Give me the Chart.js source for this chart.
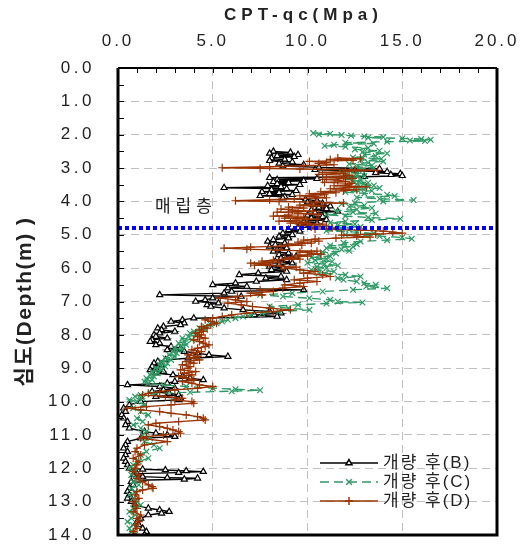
<!DOCTYPE html>
<html>
<head>
<meta charset="utf-8">
<script src="https://cdn.jsdelivr.net/npm/chart.js@4.4.1/dist/chart.umd.min.js"></script>
<style>
    html, body { margin: 0; padding: 0; background: #fff; }
    #wrap { width: 529px; height: 546px; }
</style>
</head>
<body>
<div id="wrap"><canvas id="cpt-chart" width="529" height="546"></canvas></div>
<script>
"use strict";

// ---- data (depth m, qc MPa) ----
const depthB = [2.50,2.53,2.56,2.60,2.63,2.66,2.70,2.74,2.78,2.82,2.86,2.90,2.94,2.98,3.02,3.05,3.08,3.11,3.14,3.17,3.20,3.23,3.26,3.29,3.32,3.35,3.38,3.41,3.44,3.47,3.50,3.53,3.56,3.59,3.62,3.65,3.68,3.71,3.74,3.77,3.80,3.83,3.86,3.90,3.94,3.98,4.02,4.06,4.10,4.14,4.18,4.22,4.26,4.30,4.34,4.38,4.42,4.46,4.50,4.55,4.60,4.65,4.70,4.75,4.80,4.85,4.90,4.95,5.00,5.05,5.10,5.15,5.20,5.25,5.30,5.35,5.40,5.45,5.50,5.55,5.60,5.65,5.70,5.75,5.80,5.85,5.90,5.95,6.00,6.05,6.10,6.15,6.20,6.25,6.30,6.35,6.40,6.45,6.50,6.55,6.60,6.65,6.70,6.75,6.80,6.85,6.90,6.95,7.00,7.05,7.10,7.15,7.20,7.25,7.30,7.35,7.40,7.45,7.50,7.55,7.60,7.65,7.70,7.75,7.80,7.85,7.90,7.95,8.00,8.05,8.10,8.15,8.20,8.25,8.30,8.35,8.40,8.45,8.50,8.55,8.60,8.65,8.70,8.75,8.80,8.85,8.90,8.95,9.00,9.05,9.10,9.15,9.20,9.25,9.30,9.35,9.40,9.45,9.50,9.55,9.60,9.65,9.70,9.75,9.80,9.85,9.90,9.95,10.00,10.10,10.20,10.30,10.40,10.50,10.60,10.70,10.80,10.90,10.95,11.00,11.05,11.10,11.20,11.30,11.40,11.50,11.60,11.70,11.80,11.90,12.00,12.03,12.05,12.08,12.10,12.13,12.16,12.20,12.25,12.28,12.30,12.33,12.36,12.40,12.50,12.60,12.70,12.80,12.90,13.00,13.10,13.20,13.25,13.30,13.35,13.40,13.50,13.60,13.70,13.80,13.90,14.00];
const qcB = [8.2,9.1,8.0,9.5,8.4,9.3,8.1,8.8,8.0,9.2,8.5,9.8,8.7,10.6,13.8,10.4,12.5,14.2,13.6,14.9,14.4,15.0,13.0,8.0,10.5,8.4,9.8,8.2,9.0,8.4,9.6,7.9,8.6,5.6,8.9,8.1,9.4,7.6,8.5,8.0,9.2,7.5,8.8,8.7,9.9,10.5,10.0,10.8,10.3,11.2,10.6,11.0,10.2,11.6,10.4,10.9,10.0,10.8,10.2,11.0,9.8,10.5,9.6,10.3,9.5,9.0,9.6,8.7,9.2,8.5,9.0,8.2,7.9,8.8,8.3,8.0,8.9,8.4,8.2,9.0,8.5,9.4,8.6,8.9,8.3,9.2,8.5,8.0,8.7,8.1,8.9,7.4,6.4,8.6,7.8,8.9,7.3,6.2,5.0,6.8,5.8,9.8,6.0,5.6,2.2,6.5,5.0,4.6,4.1,5.3,4.7,4.9,5.6,6.6,8.0,8.6,7.2,8.4,4.0,3.4,2.8,3.5,3.3,2.4,2.1,2.3,3.0,2.2,1.9,2.0,2.6,1.8,1.7,2.2,2.0,2.8,3.3,2.6,3.5,4.2,4.8,5.8,3.7,2.5,2.1,1.9,2.3,1.8,2.0,1.7,2.4,2.0,2.9,3.4,3.8,4.5,3.0,2.6,0.5,2.2,3.0,2.4,1.8,2.7,3.2,2.0,3.3,3.2,1.2,0.6,0.3,0.4,0.2,0.3,0.5,0.4,0.6,1.4,2.0,2.6,3.0,1.2,0.5,0.4,0.3,0.5,0.4,0.3,0.4,0.5,0.6,1.3,2.5,3.6,4.5,3.2,1.0,0.8,1.3,2.6,4.2,3.5,1.0,0.7,0.8,0.6,0.5,0.6,0.5,0.7,0.9,1.6,2.2,2.7,2.3,1.6,1.2,1.0,1.1,1.3,1.5,1.4];

const depthC = [1.95,1.97,1.99,2.01,2.03,2.05,2.07,2.09,2.11,2.13,2.15,2.17,2.19,2.21,2.24,2.27,2.30,2.33,2.36,2.40,2.44,2.48,2.52,2.56,2.60,2.64,2.68,2.72,2.76,2.80,2.84,2.88,2.92,2.96,3.00,3.04,3.08,3.12,3.16,3.20,3.24,3.28,3.32,3.36,3.40,3.44,3.48,3.52,3.56,3.60,3.64,3.68,3.72,3.76,3.80,3.84,3.88,3.92,3.96,4.00,4.04,4.08,4.12,4.16,4.20,4.24,4.28,4.32,4.36,4.40,4.44,4.48,4.52,4.56,4.60,4.64,4.68,4.72,4.76,4.80,4.84,4.88,4.92,4.96,5.00,5.04,5.08,5.12,5.16,5.20,5.24,5.28,5.32,5.36,5.40,5.44,5.48,5.52,5.56,5.60,5.64,5.68,5.72,5.76,5.80,5.84,5.88,5.92,5.96,6.00,6.05,6.10,6.15,6.20,6.25,6.30,6.35,6.40,6.45,6.50,6.55,6.60,6.65,6.70,6.75,6.80,6.85,6.90,6.95,7.00,7.03,7.06,7.10,7.15,7.20,7.25,7.30,7.35,7.40,7.45,7.50,7.55,7.60,7.65,7.70,7.75,7.80,7.85,7.90,7.95,8.00,8.05,8.10,8.15,8.20,8.25,8.30,8.35,8.40,8.45,8.50,8.55,8.60,8.65,8.70,8.75,8.80,8.85,8.90,8.95,9.00,9.05,9.10,9.15,9.20,9.25,9.30,9.35,9.40,9.45,9.50,9.55,9.60,9.63,9.66,9.69,9.72,9.76,9.80,9.85,9.90,9.95,10.00,10.10,10.20,10.30,10.40,10.50,10.60,10.70,10.80,10.90,11.00,11.10,11.20,11.30,11.40,11.50,11.60,11.70,11.80,11.90,12.00,12.10,12.20,12.30,12.40,12.50,12.60,12.70,12.80,12.90,13.00,13.10,13.20,13.30,13.40,13.50,13.60,13.70,13.80,13.90,14.00];
const qcC = [10.3,11.2,10.6,11.8,12.3,13.0,14.0,13.2,15.0,16.0,16.5,15.4,16.2,14.2,12.0,13.5,11.4,10.9,12.0,13.2,12.5,13.8,12.9,14.2,13.0,13.6,12.4,13.9,12.8,14.0,13.2,12.2,13.4,12.6,13.5,12.3,12.9,11.8,12.6,12.0,13.0,12.2,11.6,12.8,12.4,13.2,12.6,13.5,12.8,13.8,12.5,13.4,12.0,13.0,14.2,14.6,12.6,13.8,15.6,14.0,12.5,11.8,13.0,12.2,13.4,12.6,11.5,12.4,13.6,11.0,12.0,13.2,14.9,13.4,12.0,11.2,12.5,11.6,12.8,11.4,12.2,11.0,12.6,13.5,12.0,13.8,15.0,15.5,14.2,12.8,11.9,12.6,11.2,12.4,11.0,11.8,12.2,10.8,11.5,10.6,11.2,10.2,11.0,10.4,11.3,10.0,10.9,11.6,10.5,11.0,10.2,11.4,10.6,12.0,12.8,11.6,11.9,12.6,13.0,13.6,13.1,14.2,12.4,10.8,9.2,7.5,8.7,10.1,11.2,11.6,12.9,11.0,9.5,8.0,9.0,10.1,8.5,7.6,7.0,6.6,6.2,5.8,5.5,5.2,4.9,4.6,4.3,4.6,4.0,3.8,4.1,3.7,3.4,3.9,3.5,3.2,3.6,3.3,3.0,3.4,2.9,3.1,2.7,3.0,2.5,2.8,2.3,2.6,2.2,2.5,2.0,2.3,1.8,2.1,1.7,1.9,1.5,1.8,1.4,1.6,2.4,3.6,5.0,6.2,7.5,6.0,3.8,1.8,1.2,0.9,1.3,0.6,1.0,1.4,0.8,1.2,1.6,1.0,1.3,0.8,1.2,1.5,1.3,1.7,1.4,1.9,2.2,1.5,1.2,1.6,1.1,0.8,0.6,0.9,0.7,1.0,0.8,1.1,0.7,0.9,0.6,0.8,1.0,1.2,0.8,0.6,0.9,0.7,0.5,0.8,0.6,0.7,0.9];

const depthD = [2.70,2.72,2.74,2.77,2.80,2.83,2.86,2.90,2.93,2.96,2.99,3.01,3.03,3.05,3.07,3.10,3.13,3.16,3.19,3.22,3.25,3.28,3.31,3.34,3.37,3.40,3.43,3.46,3.50,3.53,3.56,3.59,3.62,3.65,3.68,3.71,3.74,3.77,3.80,3.83,3.86,3.89,3.92,3.95,3.98,4.00,4.02,4.05,4.08,4.11,4.14,4.17,4.20,4.23,4.26,4.29,4.32,4.35,4.38,4.41,4.44,4.47,4.50,4.53,4.56,4.59,4.62,4.65,4.68,4.71,4.74,4.77,4.80,4.83,4.86,4.89,4.92,4.95,4.98,5.01,5.04,5.07,5.10,5.13,5.16,5.19,5.22,5.25,5.28,5.31,5.34,5.37,5.40,5.43,5.46,5.49,5.52,5.55,5.58,5.61,5.64,5.67,5.70,5.73,5.76,5.79,5.82,5.85,5.88,5.91,5.94,5.97,6.00,6.05,6.10,6.15,6.20,6.25,6.30,6.35,6.40,6.45,6.50,6.55,6.60,6.65,6.70,6.75,6.80,6.85,6.90,6.95,7.00,7.05,7.10,7.15,7.20,7.25,7.30,7.35,7.40,7.45,7.50,7.55,7.60,7.65,7.70,7.75,7.80,7.85,7.90,7.95,8.00,8.05,8.10,8.15,8.20,8.25,8.30,8.35,8.40,8.45,8.50,8.55,8.60,8.65,8.70,8.75,8.80,8.85,8.90,8.95,9.00,9.05,9.10,9.15,9.20,9.25,9.30,9.35,9.40,9.45,9.50,9.55,9.60,9.65,9.70,9.75,9.80,9.85,9.90,9.95,10.00,10.05,10.10,10.15,10.20,10.25,10.30,10.35,10.40,10.45,10.50,10.55,10.60,10.65,10.70,10.75,10.80,10.85,10.90,10.95,11.00,11.05,11.10,11.20,11.30,11.40,11.50,11.60,11.70,11.80,11.90,12.00,12.10,12.20,12.30,12.40,12.50,12.55,12.60,12.65,12.70,12.80,12.90,13.00,13.10,13.20,13.30,13.40,13.50,13.60,13.70,13.80,13.90,14.00];
const qcD = [11.6,12.8,11.2,12.4,10.1,11.0,10.6,11.4,9.8,8.0,5.5,7.5,9.6,12.5,13.7,12.0,10.8,11.9,10.6,12.2,11.9,11.0,12.4,10.8,11.6,12.0,10.9,12.3,12.2,11.4,13.1,12.0,11.2,12.6,11.9,10.7,11.5,10.1,10.9,9.6,10.4,11.0,9.3,8.0,6.2,8.5,10.5,11.9,10.2,9.6,10.8,9.0,9.8,8.6,9.2,10.3,8.4,9.5,10.6,9.0,8.2,9.8,8.8,10.5,9.4,8.5,10.0,9.1,10.8,9.6,11.0,10.2,11.3,10.4,12.8,14.0,14.5,15.0,13.6,11.8,12.6,13.3,11.5,10.4,9.8,10.6,9.5,10.2,9.0,9.7,8.6,7.0,5.6,6.8,8.4,10.5,9.6,10.2,10.7,9.5,10.0,9.2,8.8,9.6,8.2,7.6,8.5,7.0,8.0,7.2,8.6,9.4,8.8,9.6,10.4,9.8,10.8,11.2,10.0,9.3,10.5,9.6,8.8,9.8,8.7,7.5,8.2,7.0,7.6,6.3,5.4,6.2,6.8,5.8,6.5,7.1,8.0,9.1,8.2,6.8,6.0,5.5,5.0,4.6,4.9,5.2,4.9,4.4,4.7,4.3,4.5,4.1,4.4,4.2,4.6,4.0,4.3,4.5,4.8,4.6,4.2,3.9,4.4,4.0,3.7,4.2,3.8,4.3,3.6,4.0,3.4,3.8,3.7,3.3,4.1,3.5,3.9,3.2,3.6,4.0,3.4,3.9,4.3,5.0,4.2,3.0,2.2,1.6,1.3,2.5,3.4,3.0,3.9,4.0,2.8,1.5,0.5,1.2,2.2,2.8,3.6,4.2,4.5,4.6,3.2,2.0,1.6,2.2,2.6,2.9,3.2,3.3,2.4,1.5,1.2,2.6,1.4,1.0,0.9,1.2,0.8,1.1,1.0,0.9,0.8,1.1,1.0,1.3,1.6,1.8,1.85,1.3,1.0,0.9,1.1,0.8,0.9,1.0,0.8,1.2,1.0,1.1,0.9,1.0,0.8,0.9];

const fillDepth = 4.8;            // reclaimed layer boundary
const fillLabel = '매립층';
const seriesNames = ['개량 후(B)', '개량 후(C)', '개량 후(D)'];
const colorB = '#000000';
const colorC = '#2f9a66';
const colorD = '#993300';

function toPoints(depths, qcs) {
    return depths.map(function (d, i) { return { x: qcs[i], y: d }; });
}

// chart.js has no letterSpacing option, so set it on the context
const spacingPlugin = {
    id: 'spacing',
    beforeLayout: function (chart) { chart.ctx.letterSpacing = '3px'; },
    beforeDraw: function (chart) { chart.ctx.letterSpacing = '3px'; }
};

function spacedText(ctx, text, x, y, font, spacing, align, rot) {
    ctx.save();
    ctx.font = font;
    ctx.letterSpacing = spacing;
    ctx.fillStyle = '#222';
    ctx.textAlign = align || 'center';
    ctx.textBaseline = 'middle';
    ctx.translate(x, y);
    if (rot) ctx.rotate(rot);
    ctx.fillText(text, 0, 0);
    ctx.restore();
}

// frame, inward minor ticks, depth labels, titles, layer label and legend
const decorPlugin = {
    id: 'decor',
    afterDatasetsDraw: function (chart) {
        const ctx = chart.ctx;
        const xs = chart.scales.x, ys = chart.scales.y;
        spacedText(ctx, fillLabel, xs.getPixelForValue(1.95), ys.getPixelForValue(4.12),
            '17px "Noto Sans CJK KR"', '5px', 'left');
    },
    afterDraw: function (chart) {
        const ctx = chart.ctx;
        const a = chart.chartArea;
        const xs = chart.scales.x, ys = chart.scales.y;

        ctx.save();
        ctx.strokeStyle = '#000';
        ctx.lineWidth = 1;
        ctx.beginPath();
        for (let v = 1; v < 20; v++) {
            const px = Math.round(xs.getPixelForValue(v)) + 0.5;
            ctx.moveTo(px, a.top);
            ctx.lineTo(px, a.top + 5);
        }
        for (let d = 0.5; d < 14; d += 0.5) {
            const py = Math.round(ys.getPixelForValue(d)) + 0.5;
            ctx.moveTo(a.left, py);
            ctx.lineTo(a.left + 6, py);
        }
        ctx.stroke();

        ctx.lineWidth = 3;
        ctx.beginPath();
        ctx.moveTo(a.left, a.top);
        ctx.lineTo(a.left, a.bottom);
        ctx.lineTo(a.right, a.bottom);
        ctx.lineTo(a.right, a.top);
        ctx.stroke();
        ctx.lineWidth = 2;
        ctx.beginPath();
        ctx.moveTo(a.left, a.top);
        ctx.lineTo(a.right, a.top);
        ctx.stroke();
        ctx.restore();

        // depth tick labels
        ys.ticks.forEach(function (t) {
            spacedText(ctx, t.value.toFixed(1), a.left - 23, ys.getPixelForValue(t.value),
                '17px "Liberation Sans"', '3.5px', 'right');
        });

        // axis titles
        spacedText(ctx, 'CPT-qc(Mpa)', (a.left + a.right) / 2 - 4, 15,
            'bold 17px "Liberation Sans", "Noto Sans CJK KR"', '5px');
        spacedText(ctx, '심도(Depth(m) )', 25, (a.top + a.bottom) / 2,
            'bold 21px "Liberation Sans", "Noto Sans CJK KR"', '1.5px', 'center', -Math.PI / 2);

        // legend
        const styles = [
            { color: colorB, dash: [], point: 'triangle', fill: '#fff', r: 3.5 },
            { color: colorC, dash: [9, 5], point: 'crossRot', fill: colorC, r: 4 },
            { color: colorD, dash: [], point: 'cross', fill: colorD, r: 4 }
        ];
        const lx0 = 320, lx1 = 378, ly0 = 463, lstep = 19;
        styles.forEach(function (s, i) {
            const y = ly0 + i * lstep;
            ctx.save();
            ctx.strokeStyle = s.color;
            ctx.lineWidth = 1.5;
            ctx.setLineDash(s.dash);
            ctx.beginPath();
            ctx.moveTo(lx0, y);
            ctx.lineTo(lx1, y);
            ctx.stroke();
            ctx.setLineDash([]);
            ctx.fillStyle = s.fill;
            Chart.helpers.drawPoint(ctx, { pointStyle: s.point, radius: s.r, borderWidth: 1.2, rotation: 0 },
                (lx0 + lx1) / 2, y);
            ctx.restore();
            spacedText(ctx, seriesNames[i], lx1 + 5, y, '17px "Liberation Sans", "Noto Sans CJK KR"', '2px', 'left');
        });
    }
};

const lineStyle = { showLine: true, borderWidth: 1.4, pointBorderWidth: 1.2, pointHoverRadius: 0 };

const chart = new Chart(document.getElementById('cpt-chart'), {
    type: 'scatter',
    data: {
        datasets: [
            Object.assign({
                label: seriesNames[0], data: toPoints(depthB, qcB), order: 3,
                borderColor: colorB, pointStyle: 'triangle', pointRadius: 3.5,
                pointBackgroundColor: '#fff', pointBorderColor: colorB
            }, lineStyle),
            Object.assign({
                label: seriesNames[1], data: toPoints(depthC, qcC), order: 2,
                borderColor: colorC, borderDash: [9, 5], pointStyle: 'crossRot', pointRadius: 4,
                pointBorderColor: colorC
            }, lineStyle),
            Object.assign({
                label: seriesNames[2], data: toPoints(depthD, qcD), order: 1,
                borderColor: colorD, pointStyle: 'cross', pointRadius: 4,
                pointBorderColor: colorD
            }, lineStyle),
            {
                label: fillLabel, order: 0, showLine: true,
                data: [{ x: 0, y: fillDepth }, { x: 20, y: fillDepth }],
                borderColor: '#0000ff', borderWidth: 4, borderDash: [4, 3], pointRadius: 0
            }
        ]
    },
    options: {
        responsive: false,
        animation: false,
        layout: { padding: { left: 0, top: 0, right: 32, bottom: 11 } },
        plugins: { legend: { display: false }, tooltip: { enabled: false } },
        scales: {
            x: {
                type: 'linear', position: 'top', min: 0, max: 20,
                afterFit: function (s) {
                    s.height = 68;
                    s.paddingLeft = 0; s.paddingRight = 0; s.paddingTop = 0; s.paddingBottom = 0;
                },
                ticks: {
                    stepSize: 5, padding: 16, color: '#222',
                    font: { family: '"Liberation Sans"', size: 17 },
                    callback: function (v) { return v.toFixed(1); }
                },
                grid: {
                    drawTicks: false, lineWidth: 1,
                    color: function (c) { return (c.tick && (c.tick.value === 0 || c.tick.value === 20)) ? 'rgba(0,0,0,0)' : '#c0c0c0'; }
                },
                border: { display: false, dash: [8, 5] }
            },
            y: {
                type: 'linear', reverse: true, min: 0, max: 14,
                afterFit: function (s) {
                    s.width = 118;
                    s.paddingLeft = 0; s.paddingRight = 0; s.paddingTop = 0; s.paddingBottom = 0;
                },
                ticks: { stepSize: 1, display: false },
                grid: {
                    drawTicks: false, lineWidth: 1,
                    color: function (c) { return (c.tick && (c.tick.value === 0 || c.tick.value === 14)) ? 'rgba(0,0,0,0)' : '#c0c0c0'; }
                },
                border: { display: false, dash: [8, 5] }
            }
        }
    },
    plugins: [spacingPlugin, decorPlugin]
});
</script>
</body>
</html>
